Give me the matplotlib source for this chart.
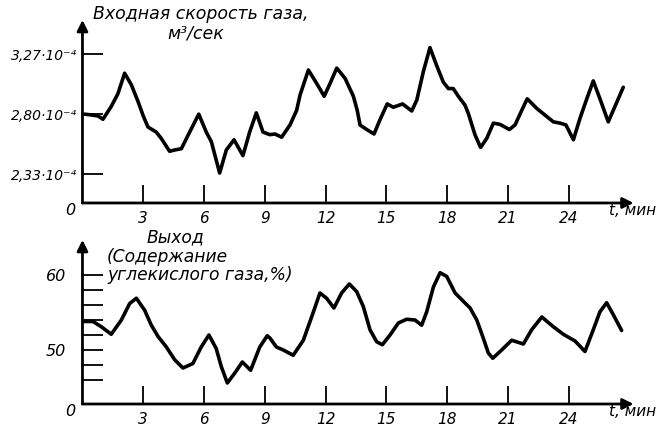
import matplotlib
matplotlib.use("Agg")
import matplotlib.pyplot as plt

# --- data (time in minutes) ---
t_in = [0.11, 0.43, 0.77, 1.01, 1.42, 1.75, 2.08, 2.41, 2.74, 2.99, 3.23, 3.64,
        3.89, 4.30, 4.55, 4.88, 5.29, 5.74, 6.11, 6.36, 6.77, 7.10, 7.48, 7.92,
        8.25, 8.58, 8.91, 9.24, 9.50, 9.83, 10.24, 10.57, 10.74, 11.15, 11.56,
        11.93, 12.22, 12.55, 12.96, 13.37, 13.56, 13.70, 14.03, 14.39, 14.68,
        15.04, 15.34, 15.80, 16.25, 16.50, 16.82, 17.15, 17.48, 17.81, 18.06,
        18.30, 18.55, 18.88, 19.04, 19.37, 19.65, 19.95, 20.28, 20.61, 21.07,
        21.35, 21.68, 21.95, 22.42, 22.88, 23.24, 23.57, 23.86, 24.23, 24.56,
        24.89, 25.21, 25.54, 25.95, 26.28, 26.69]
gas_rate = [2.80, 2.794, 2.786, 2.76, 2.86, 2.96, 3.12, 3.03, 2.90, 2.79, 2.70,
            2.66, 2.61, 2.51, 2.52, 2.53, 2.66, 2.80, 2.66, 2.585, 2.34, 2.52,
            2.60, 2.476, 2.66, 2.81, 2.66, 2.64, 2.645, 2.62, 2.715, 2.83, 2.95,
            3.145, 3.04, 2.94, 3.04, 3.16, 3.08, 2.94, 2.83, 2.715, 2.68, 2.645,
            2.755, 2.88, 2.854, 2.88, 2.825, 2.91, 3.13, 3.32, 3.18, 3.05, 3.00,
            3.00, 2.94, 2.87, 2.807, 2.64, 2.54, 2.61, 2.73, 2.72, 2.68, 2.716,
            2.83, 2.92, 2.845, 2.786, 2.74, 2.73, 2.716, 2.60, 2.77, 2.92, 3.06,
            2.92, 2.74, 2.86, 3.01]

t_out = [0.02, 0.52, 0.93, 1.42, 1.92, 2.33, 2.66, 3.07, 3.40, 3.73, 4.14, 4.55,
         4.96, 5.45, 5.86, 6.24, 6.60, 6.85, 7.15, 7.51, 7.89, 8.30, 8.75, 9.12,
         9.25, 9.57, 9.91, 10.40, 10.90, 11.31, 11.72, 12.05, 12.41, 12.79,
         13.17, 13.53, 13.86, 14.19, 14.52, 14.80, 15.18, 15.59, 16.00, 16.41,
         16.74, 16.99, 17.32, 17.65, 17.98, 18.39, 18.72, 19.13, 19.46, 19.78,
         20.03, 20.25, 20.69, 21.18, 21.76, 22.17, 22.67, 23.24, 23.73, 24.31,
         24.80, 25.21, 25.54, 25.87, 26.20, 26.61]
co2 = [53.8, 53.8, 53.1, 52.1, 54.0, 56.2, 56.9, 55.3, 53.3, 51.8, 50.4, 48.7,
       47.6, 48.2, 50.4, 52.0, 50.2, 47.8, 45.6, 46.9, 48.4, 47.3, 50.4, 51.9,
       51.6, 50.4, 50.0, 49.3, 51.3, 54.4, 57.6, 56.9, 55.6, 57.6, 58.8, 57.8,
       55.8, 52.7, 51.1, 50.7, 52.0, 53.6, 54.1, 54.0, 53.3, 55.1, 58.4, 60.3,
       59.8, 57.6, 56.7, 55.6, 54.0, 51.6, 49.6, 48.9, 50.0, 51.3, 50.8, 52.7,
       54.4, 53.1, 52.1, 51.2, 49.8, 52.7, 55.1, 56.3, 54.7, 52.6]

x_ticks = [3, 6, 9, 12, 15, 18, 21, 24]
in_ticks = [2.33, 2.80, 3.27]
in_labels = ["2,33·10⁻⁴", "2,80·10⁻⁴", "3,27·10⁻⁴"]
out_ticks = [46, 48, 50, 52, 54, 56, 58, 60]
out_labels = ["", "", "50", "", "", "", "", "60"]

plt.rcParams["font.family"] = ["DejaVu Sans"]
plt.rcParams["font.style"] = "italic"


def style_axis(ax):
    for side in ["top", "right", "left", "bottom"]:
        ax.spines[side].set_visible(False)
    arrow = dict(arrowstyle="-|>", color="black", lw=2.0,
                 mutation_scale=16, shrinkA=0, shrinkB=0)
    ax.annotate("", xy=(1, 0), xytext=(0, 0), xycoords="axes fraction",
                arrowprops=arrow, annotation_clip=False)
    ax.annotate("", xy=(0, 1), xytext=(0, 0), xycoords="axes fraction",
                arrowprops=arrow, annotation_clip=False)
    ax.set_xlim(0, 27.2)
    ax.set_xticks(x_ticks)
    ax.set_xticklabels([str(v) for v in x_ticks], fontsize=11)
    ax.tick_params(axis="x", direction="in", length=13, width=1.3, pad=6)
    ax.tick_params(axis="y", direction="in", length=15, width=1.3)
    ax.text(-0.35, ax.get_ylim()[0], "0", ha="right", va="top", fontsize=11.5)
    ax.text(25.99, ax.get_ylim()[0], "t, мин", ha="left", va="top", fontsize=11,
            transform=ax.transData)
    ax.patch.set_visible(False)


fig = plt.figure(figsize=(6.64, 4.34), dpi=100)

top = fig.add_axes([0.1242, 0.5323, 0.830, 0.4217])
top.plot(t_in, gas_rate, color="black", lw=2.6, solid_joinstyle="round",
         solid_capstyle="round")
top.set_ylim(2.106, 3.536)
top.set_yticks(in_ticks)
top.set_yticklabels(in_labels, fontsize=10)
top.tick_params(axis="y", pad=4)
style_axis(top)

bot = fig.add_axes([0.1242, 0.0691, 0.830, 0.378])
bot.plot(t_out, co2, color="black", lw=2.6, solid_joinstyle="round",
         solid_capstyle="round")
bot.set_ylim(42.8, 64.67)
bot.set_yticks(out_ticks)
bot.set_yticklabels(out_labels, fontsize=11.5)
bot.tick_params(axis="y", pad=12)
style_axis(bot)

fig.text(93 / 664, 1 - 14 / 434, "Входная скорость газа,", ha="left",
         va="center", fontsize=12.5)
fig.text(196 / 664, 1 - 34 / 434, "м³/сек", ha="center", va="center",
         fontsize=12.5)
fig.text(147 / 664, 1 - 237 / 434, "Выход", ha="left", va="center", fontsize=12.3)
fig.text(107 / 664, 1 - 257 / 434, "(Содержание", ha="left", va="center",
         fontsize=12.3)
fig.text(107 / 664, 1 - 275 / 434, "углекислого газа,%)", ha="left",
         va="center", fontsize=12.3)

fig.savefig("out.png", dpi=100, facecolor="white")
